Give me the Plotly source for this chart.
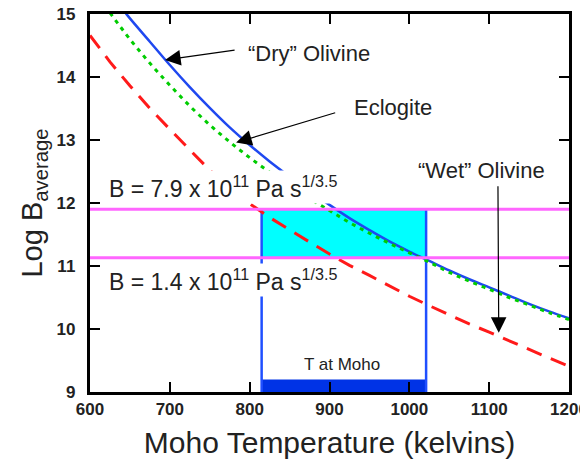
import plotly.graph_objects as go

# ---- data ----
T_dry = [645, 650, 675, 700, 725, 750, 775, 800, 825, 850, 875, 900, 925, 950, 975,
         1000, 1025, 1050, 1075, 1100, 1125, 1150, 1175, 1200]
B_dry = [15.01, 14.93, 14.56, 14.19, 13.84, 13.51, 13.20, 12.92, 12.66, 12.42, 12.19, 11.97,
         11.76, 11.57, 11.39, 11.23, 11.08, 10.93, 10.79, 10.66, 10.53, 10.40, 10.28, 10.17]

T_ecl = [625, 650, 675, 700, 725, 750, 775, 800, 825, 850, 875, 900, 925, 950, 975,
         1000, 1025, 1050, 1075, 1100, 1125, 1150, 1175, 1200]
B_ecl = [15.02, 14.60, 14.22, 13.87, 13.54, 13.24, 12.97, 12.72, 12.49, 12.27, 12.07, 11.88,
         11.69, 11.52, 11.36, 11.21, 11.06, 10.90, 10.76, 10.63, 10.50, 10.38, 10.26, 10.15]

T_wet = [600, 625, 650, 675, 700, 725, 750, 775, 800, 825, 850, 875, 900, 925, 950, 975,
         1000, 1025, 1050, 1075, 1100, 1125, 1150, 1175, 1200]
B_wet = [14.66, 14.24, 13.86, 13.50, 13.17, 12.84, 12.52, 12.24, 11.99, 11.77, 11.57, 11.38,
         11.19, 11.01, 10.85, 10.68, 10.52, 10.37, 10.22, 10.08, 9.95, 9.81, 9.67, 9.54, 9.41]

B_upper_log = 11.90   # B = 7.9e11
B_lower_log = 11.13   # B = 1.4e11
T_moho = [815, 1021]  # range of Moho temperature
bar_top = 9.2

x_ticks = [600, 700, 800, 900, 1000, 1100, 1200]
y_ticks = [9, 10, 11, 12, 13, 14, 15]
x_ticklabels = ["600", "700", "800", "900", "1000", "1100", "1200"]
y_ticklabels = ["9", "10", "11", "12", "13", "14", "15"]

X_RANGE = [600, 1200]
Y_RANGE = [9, 15]

FONT = "Liberation Sans, Arial, sans-serif"
TXT = "#222222"
BLUE = "#1f48f0"
VBLUE = "#1f4fff"

fig = go.Figure()

fig.add_trace(go.Scatter(x=T_wet, y=B_wet, mode="lines",
                         line=dict(color="#ff1a1a", width=3, dash="16px,10px"),
                         hoverinfo="skip", showlegend=False))
fig.add_trace(go.Scatter(x=T_dry, y=B_dry, mode="lines",
                         line=dict(color=BLUE, width=2.5, shape="spline"),
                         hoverinfo="skip", showlegend=False))
fig.add_trace(go.Scatter(x=T_ecl, y=B_ecl, mode="lines",
                         line=dict(color="#00cc00", width=3, dash="4px,5px", shape="spline"),
                         hoverinfo="skip", showlegend=False))

shapes = [
    dict(type="rect", xref="x", yref="y", x0=T_moho[0], x1=T_moho[1],
         y0=B_lower_log, y1=B_upper_log, fillcolor="#00ffff", line=dict(width=0), layer="below"),
    dict(type="rect", xref="x", yref="y", x0=T_moho[0], x1=T_moho[1],
         y0=Y_RANGE[0], y1=bar_top, fillcolor="#0033e6", line=dict(width=0), layer="below"),
    dict(type="line", xref="x", yref="y", x0=T_moho[0], x1=T_moho[0],
         y0=Y_RANGE[0], y1=B_upper_log, line=dict(color=VBLUE, width=2.5), layer="below"),
    dict(type="line", xref="x", yref="y", x0=T_moho[1], x1=T_moho[1],
         y0=Y_RANGE[0], y1=B_upper_log, line=dict(color=VBLUE, width=2.5), layer="below"),
    dict(type="line", xref="x", yref="y", x0=X_RANGE[0], x1=X_RANGE[1],
         y0=B_upper_log, y1=B_upper_log, line=dict(color="#ff66ff", width=3), layer="above"),
    dict(type="line", xref="x", yref="y", x0=X_RANGE[0], x1=X_RANGE[1],
         y0=B_lower_log, y1=B_lower_log, line=dict(color="#ff66ff", width=3), layer="above"),
]

ann = []
arrow_style = dict(showarrow=True, arrowhead=2, arrowsize=2.6, arrowwidth=1.2,
                   arrowcolor="black", axref="x", ayref="y", xref="x", yref="y", text="")
ann.append(dict(x=694, y=14.27, ax=783, ay=14.43, **arrow_style))
ann.append(dict(x=783, y=12.96, ax=909, ay=13.44, **arrow_style))
ann.append(dict(x=1112, y=9.94, ax=1111, ay=12.29, **arrow_style))

lab_font = dict(family=FONT, size=22, color=TXT)
ann.append(dict(x=874, y=14.38, text="\u201cDry\u201d Olivine", showarrow=False,
                xref="x", yref="y", font=lab_font))
ann.append(dict(x=979, y=13.52, text="Eclogite", showarrow=False,
                xref="x", yref="y", font=lab_font))
ann.append(dict(x=1090, y=12.52, text="\u201cWet\u201d Olivine", showarrow=False,
                xref="x", yref="y", font=lab_font))
blab_font = dict(family=FONT, size=23, color=TXT)
ann.append(dict(x=621, y=12.25, text="B = 7.9 x 10<sup>11</sup> Pa s<sup>1/3.5</sup>",
                showarrow=False, xref="x", yref="y", xanchor="left", yanchor="middle",
                bgcolor="white", borderpad=1, font=blab_font))
ann.append(dict(x=621, y=10.78, text="B = 1.4 x 10<sup>11</sup> Pa s<sup>1/3.5</sup>",
                showarrow=False, xref="x", yref="y", xanchor="left", yanchor="middle",
                bgcolor="white", borderpad=1, font=blab_font))
ann.append(dict(x=916, y=9.43, text="T at Moho", showarrow=False, xref="x", yref="y",
                font=dict(family=FONT, size=17, color=TXT)))

axis_common = dict(showgrid=False, zeroline=False, showline=True, linecolor="black",
                   linewidth=2.5, mirror="allticks", ticks="inside", ticklen=10, tickwidth=1.5,
                   tickcolor="black", automargin=False,
                   tickfont=dict(family=FONT, size=17, color=TXT))

# the page body has an 8px margin; the figure is sized so that the whole
# 588x463 window shows the chart
fig.update_layout(
    width=580, height=455,
    margin=dict(l=82, r=19, t=6, b=71, autoexpand=False),
    paper_bgcolor="white", plot_bgcolor="white",
    font=dict(family=FONT, color=TXT),
    shapes=shapes, annotations=ann,
    xaxis=dict(range=X_RANGE, tickvals=x_ticks,
               ticktext=["<b>%s</b>" % t for t in x_ticklabels],
               title=dict(text="Moho Temperature (kelvins)",
                          font=dict(family=FONT, size=30, color=TXT), standoff=14),
               **axis_common),
    yaxis=dict(range=Y_RANGE, tickvals=y_ticks, ticklabeloverflow="allow",
               ticktext=["<b>%s</b>\u2002" % t for t in y_ticklabels],
               title=dict(text="Log B<sub>average</sub>",
                          font=dict(family=FONT, size=29, color=TXT), standoff=6),
               **axis_common),
)

fig.write_html("out.html")
